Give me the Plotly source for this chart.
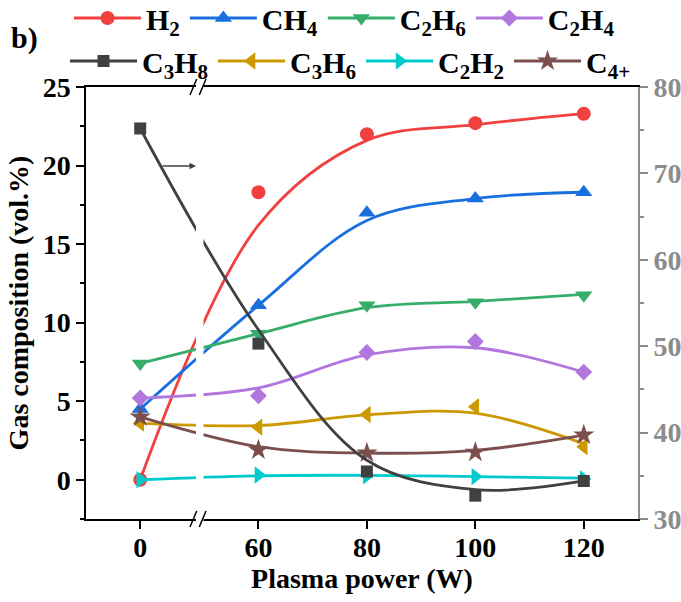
import plotly.graph_objects as go

W, H = 681, 602
FONT = "Liberation Serif, Times New Roman, serif"

# ---------------- data ----------------
power = [0, 60, 80, 100, 120]
tick_labels = ["0", "60", "80", "100", "120"]

# measured gas composition (vol.%) - markers
h2   = [0.0, 18.3, 22.0, 22.7, 23.3]
ch4  = [4.5, 11.1, 17.0, 17.9, 18.3]
c2h6 = [7.4, 9.3, 11.1, 11.3, 11.75]
c2h4 = [5.2, 5.35, 8.1, 8.8, 6.85]
c3h8 = [75.2, 50.3, 35.5, 32.7, 34.4]   # right axis
c3h6 = [3.6, 3.35, 4.15, 4.65, 2.1]
c2h2 = [0.0, 0.3, 0.25, 0.2, 0.05]
c4p  = [4.0, 1.9, 1.7, 1.75, 2.85]

# smoothed guide curves at the same powers
h2_fit   = [0.0, 16.2, 21.6, 22.6, 23.3]
ch4_fit  = [4.5, 11.1, 16.5, 17.9, 18.3]
c2h6_fit = [7.4, 9.3, 10.95, 11.35, 11.8]
c2h4_fit = [5.2, 5.85, 7.95, 8.4, 6.85]
c3h8_fit = [75.2, 51.9, 36.8, 33.4, 34.4]
c3h6_fit = [3.6, 3.45, 4.13, 4.24, 2.3]
c2h2_fit = [0.0, 0.25, 0.28, 0.2, 0.1]
c4p_fit  = [4.0, 2.1, 1.7, 1.87, 2.84]

names = ["H<sub>2</sub>", "CH<sub>4</sub>", "C<sub>2</sub>H<sub>6</sub>", "C<sub>2</sub>H<sub>4</sub>",
         "C<sub>3</sub>H<sub>8</sub>", "C<sub>3</sub>H<sub>6</sub>", "C<sub>2</sub>H<sub>2</sub>", "C<sub>4+</sub>"]

# ---------------- layout constants ----------------
L, R, T, B = 86, 638, 87, 519
BREAK_SHIFT = 38.2   # broken axis: 0 W drawn at 38.2
XRANGE = [28.2, 130]


def xpos(p):
    return p + BREAK_SHIFT if p < 60 else p


def px(x):
    return x / W


def py(y):
    return 1 - y / H


xs = [xpos(p) for p in power]

series = [
    (names[0], h2, h2_fit, "#F14040", "circle", 14, "y", "legend"),
    (names[1], ch4, ch4_fit, "#1A6FDF", "triangle-up", 15, "y", "legend"),
    (names[2], c2h6, c2h6_fit, "#37AD6B", "triangle-down", 15, "y", "legend"),
    (names[3], c2h4, c2h4_fit, "#B177DE", "diamond", 13, "y", "legend"),
    (names[4], c3h8, c3h8_fit, "#404040", "square", 12, "y2", "legend2"),
    (names[5], c3h6, c3h6_fit, "#CC9900", "triangle-left", 15, "y", "legend2"),
    (names[6], c2h2, c2h2_fit, "#00CBCC", "triangle-right", 15, "y", "legend2"),
    (names[7], c4p, c4p_fit, "#7D4E4E", "star", 16, "y", "legend2"),
]

fig = go.Figure()
for name, vals, fit, color, sym, size, yax, leg in series:
    fig.add_trace(go.Scatter(x=xs, y=fit, mode="lines", yaxis=yax,
                             line=dict(color=color, width=2.8, shape="spline", smoothing=1.0),
                             showlegend=False, hoverinfo="skip"))
    fig.add_trace(go.Scatter(x=xs, y=vals, mode="markers", yaxis=yax,
                             marker=dict(color=color, symbol=sym, size=size, line=dict(width=0)),
                             showlegend=False, name=name))
    fig.add_trace(go.Scatter(x=[None], y=[None], mode="lines+markers", name=name, legend=leg,
                             line=dict(color=color, width=2.8),
                             marker=dict(color=color, symbol=sym, size=size, line=dict(width=0))))

tick_font = dict(family=FONT, size=28, color="black", weight="bold")
title_font = dict(family=FONT, size=28, color="black", weight="bold")
leg_font = dict(family=FONT, size=30, color="black", weight="bold")
gray = "#8C8C8C"

fig.update_layout(
    width=W, height=H,
    margin=dict(l=0, r=0, t=0, b=0, autoexpand=False),
    plot_bgcolor="white", paper_bgcolor="white",
    xaxis=dict(domain=[px(L), px(R)], range=XRANGE, tickvals=xs, ticktext=tick_labels,
               ticks="outside", ticklen=8, tickwidth=1.5, tickcolor="black",
               showline=True, linecolor="black", linewidth=1.5, mirror=True,
               showgrid=False, zeroline=False, tickfont=tick_font, ticklabelstandoff=-5,
               automargin=False,
               title=dict(text="Plasma power (W)", font=title_font, standoff=2)),
    yaxis=dict(domain=[py(B), py(T)], range=[-2.5, 25], tick0=0, dtick=5,
               ticks="outside", ticklen=8, tickwidth=1.5, tickcolor="black",
               showline=True, linecolor="black", linewidth=1.5,
               showgrid=False, zeroline=False, tickfont=tick_font, automargin=False,
               minor=dict(dtick=2.5, tick0=0, ticks="outside", ticklen=4, tickwidth=1.5,
                          tickcolor="black", showgrid=False),
               title=dict(text="Gas composition (vol.%)", font=title_font, standoff=6)),
    yaxis2=dict(overlaying="y", side="right", anchor="x", range=[30, 80], tick0=30, dtick=10,
                ticks="outside", ticklen=8, tickwidth=1.5, tickcolor=gray,
                showline=True, linecolor=gray, linewidth=2,
                showgrid=False, zeroline=False, automargin=False,
                tickfont=dict(family=FONT, size=28, color=gray, weight="bold"),
                minor=dict(dtick=5, tick0=30, ticks="outside", ticklen=4, tickwidth=1.5,
                           tickcolor=gray, showgrid=False)),
    legend=dict(orientation="h", x=px(69), xanchor="left", y=py(18), yanchor="middle",
                font=leg_font, itemwidth=67, bgcolor="rgba(0,0,0,0)", borderwidth=0),
    legend2=dict(orientation="h", x=px(65), xanchor="left", y=py(61), yanchor="middle",
                 font=leg_font, itemwidth=67, bgcolor="rgba(0,0,0,0)", borderwidth=0),
    showlegend=True,
)

# axis break: white band + double slashes
shapes = [dict(type="rect", xref="paper", yref="paper",
               x0=px(196), x1=px(203.5), y0=py(B + 12), y1=py(T - 12),
               fillcolor="white", line=dict(width=0), layer="above")]
for yc in (T, B):
    for x0 in (190, 199.3):
        shapes.append(dict(type="line", xref="paper", yref="paper",
                           x0=px(x0), y0=py(yc + 8), x1=px(x0 + 6.7), y1=py(yc - 8),
                           line=dict(color="black", width=1.5), layer="above"))
fig.update_layout(shapes=shapes)

fig.add_annotation(xref="paper", yref="paper", x=px(196), y=py(166),
                   ax=-35, ay=0, axref="pixel", ayref="pixel",
                   showarrow=True, arrowhead=2, arrowsize=1, arrowwidth=1.3,
                   arrowcolor="#404040", text="")
fig.add_annotation(xref="paper", yref="paper", x=px(9), y=py(38), xanchor="left", yanchor="middle",
                   text="b)", showarrow=False,
                   font=dict(family=FONT, size=30, color="black", weight="bold"))

fig.write_html("out.html")
